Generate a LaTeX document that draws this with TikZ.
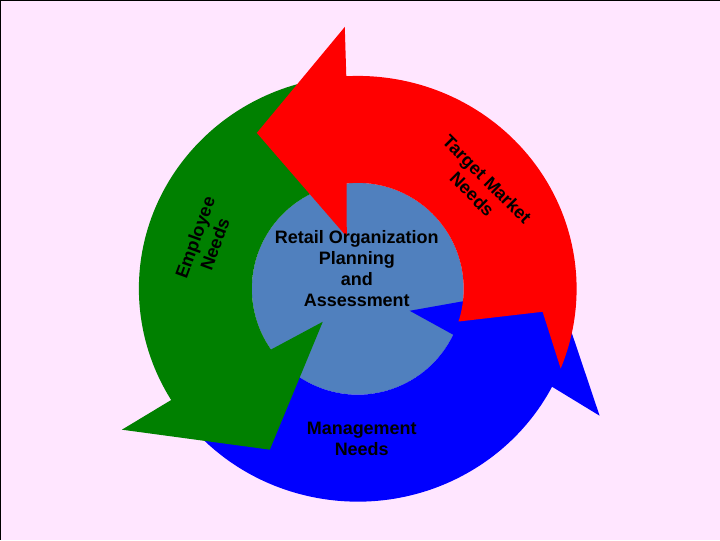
\documentclass[tikz,border=0pt]{standalone}
\usepackage{fontspec}
\setmainfont{Liberation Sans}
\definecolor{bgpink}{RGB}{255,230,255}
\definecolor{ringgreen}{RGB}{0,128,0}
\definecolor{coreblue}{RGB}{80,128,190}
\tikzset{
  needtext/.style={font=\bfseries\fontsize{18bp}{21bp}\selectfont, align=center, text=black},
}
\begin{document}
\begin{tikzpicture}[x=1bp, y=1bp]
    % 背景
    \fill[bgpink] (0,0) rectangle (720,540);
    \draw[line width=1bp] (0.5,0) -- (0.5,539.5) -- (720,539.5);
    \useasboundingbox (0,0) rectangle (720,540);

    \begin{scope}[shift={(358,251)}]
    % 中心の円
    \fill[coreblue] (0,0) circle[radius=106];

    % 矢印 (青 → 緑 → 赤)
    \fill[blue] (218:106) -- (-122,-140) -- (214:219 and 213)
      arc[start angle=214, end angle=332.6, x radius=219, y radius=213]
      -- (242,-127) -- (198,4) -- (52,-22) -- (334.3:106)
      arc[start angle=334.3, end angle=218, radius=106] -- cycle;
    \fill[ringgreen] (100:106) -- (-67,174) -- (96:219 and 213)
      arc[start angle=96, end angle=211.5, x radius=219, y radius=213]
      -- (-236,-141) -- (-88,-161) -- (-35,-33) -- (215:106)
      arc[start angle=215, end angle=100, radius=106] -- cycle;
    \fill[red] (-18:106) -- (185,-23) -- (-22:219 and 213)
      arc[start angle=-22, end angle=93, x radius=219, y radius=213]
      -- (-13,262) -- (-101,156) -- (-11,52) -- (96:106)
      arc[start angle=96, end angle=-18, radius=106] -- cycle;

    % ラベル
    \node[needtext] (core) at (-1,20) {Retail Organization\\Planning\\and\\Assessment};
    \node[needtext] (mgmt) at (4,-150) {Management\\Needs};
    \node[needtext, rotate=70] (emp) at (-153,48) {Employee\\Needs};
    \node[needtext, rotate=-45] (mkt) at (122,102) {Target Market\\Needs};
    \end{scope}
\end{tikzpicture}
\end{document}
